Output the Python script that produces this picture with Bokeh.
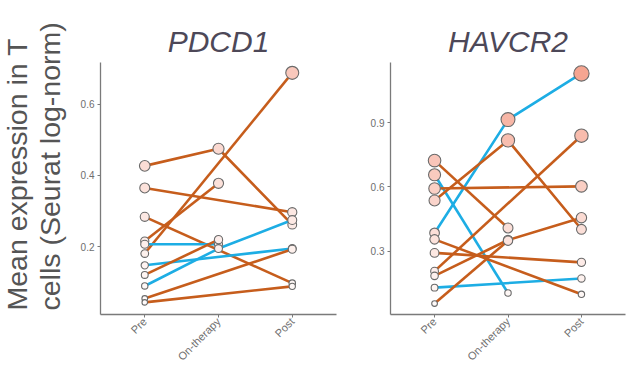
import math
from bokeh.plotting import figure
from bokeh.models import Range1d, FixedTicker, ColumnDataSource, Title
from bokeh.layouts import row
from bokeh.embed import file_html
from bokeh.resources import INLINE

nan = float("nan")

timepoints = ["Pre", "On-therapy", "Post"]

# PDCD1 (one entry per patient)
pdcd1_group = ["G1", "G1", "G1", "G1", "G1", "G2", "G2", "G2", "G1", "G1", "G1"]
pdcd1_pre = [0.427, 0.365, 0.284, 0.181, 0.216, 0.207, 0.148, 0.090, 0.121, 0.055, 0.044]
pdcd1_on = [0.475, nan, nan, nan, 0.378, 0.207, nan, 0.195, 0.220, nan, nan]
pdcd1_post = [0.262, 0.297, 0.098, 0.688, nan, nan, 0.195, 0.275, nan, 0.193, 0.089]
pdcd1_ticks = [0.2, 0.4, 0.6]

# HAVCR2 (one entry per patient)
havcr2_group = ["G2", "G2", "G2", "G1", "G1", "G1", "G1", "G1", "G1", "G1", "G1"]
havcr2_pre = [0.386, 0.657, 0.131, 0.723, 0.537, 0.593, 0.356, 0.293, 0.208, 0.186, 0.057]
havcr2_on = [0.914, 0.106, nan, 0.409, 0.817, nan, nan, nan, nan, 0.353, 0.350]
havcr2_post = [1.129, nan, 0.174, nan, 0.403, 0.603, 0.100, 0.249, 0.839, 0.457, nan]
havcr2_ticks = [0.3, 0.6, 0.9]

ylabel_lines = ["Mean expression in T", "cells  (Seurat log-norm)"]

LINE_COLORS = {"G1": "#C65D1C", "G2": "#1DADE4"}
FILL_LO = (255, 255, 255)
FILL_HI = (245, 165, 145)
FILL_MAX = 1.13
TEXT_GREY = "#6e6e6e"


def fill_for(v):
    t = max(0.0, min(1.0, v / FILL_MAX))
    c = [round(a + (b - a) * t) for a, b in zip(FILL_LO, FILL_HI)]
    return "#%02x%02x%02x" % tuple(c)


def build(title, pre, on, post, group, yr, yticks, srange, width, borders):
    left, right, top, bottom = borders
    p = figure(width=width, height=375, x_range=Range1d(0.4, 3.6), y_range=Range1d(*yr),
               output_backend="svg", toolbar_location=None,
               min_border_left=left, min_border_right=right,
               min_border_top=top, min_border_bottom=bottom)
    p.outline_line_color = None
    p.grid.visible = False
    p.background_fill_color = "white"
    p.border_fill_color = "white"

    xs, ys, cols = [], [], []
    px, py = [], []
    for i in range(len(pre)):
        vals = [pre[i], on[i], post[i]]
        lx = [k + 1 for k, v in enumerate(vals) if not math.isnan(v)]
        ly = [v for v in vals if not math.isnan(v)]
        xs.append(lx)
        ys.append(ly)
        cols.append(LINE_COLORS[group[i]])
        px += lx
        py += ly
    p.multi_line(xs=xs, ys=ys, line_color=cols, line_width=2.6)

    vmin, vmax = min(py), max(py)
    dmin, dmax = srange
    sizes = [math.sqrt(dmin ** 2 + (dmax ** 2 - dmin ** 2) * (v - vmin) / (vmax - vmin)) for v in py]
    fills = [fill_for(v) for v in py]
    src = ColumnDataSource(dict(x=px, y=py, size=sizes, fill=fills))
    p.scatter("x", "y", size="size", fill_color="fill", line_color="#6a6a6a",
              line_width=1.1, source=src)

    p.title.text = title
    p.title.align = "center"
    p.title.text_font = "Liberation Sans"
    p.title.text_font_style = "italic"
    p.title.text_font_size = "30px"
    p.title.text_color = "#4d4858"

    for ax in (p.xaxis[0], p.yaxis[0]):
        ax.axis_line_color = "#7a7a7a"
        ax.axis_line_width = 1.3
        ax.major_tick_line_color = "#7a7a7a"
        ax.major_tick_out = 3
        ax.major_tick_in = 0
        ax.minor_tick_line_color = None

    p.yaxis.ticker = FixedTicker(ticks=yticks)
    p.yaxis.major_label_text_font = "Liberation Sans"
    p.yaxis.major_label_text_font_size = "10px"
    p.yaxis.major_label_text_color = TEXT_GREY
    p.yaxis.major_label_standoff = 3

    p.xaxis.ticker = FixedTicker(ticks=[1, 2, 3])
    p.xaxis.major_label_overrides = {i + 1: name for i, name in enumerate(timepoints)}
    p.xaxis.major_label_orientation = math.pi / 4
    p.xaxis.major_label_text_font = "Liberation Sans"
    p.xaxis.major_label_text_font_size = "11px"
    p.xaxis.major_label_text_color = TEXT_GREY
    p.xaxis.major_label_standoff = 2
    return p


p1 = build("PDCD1", pdcd1_pre, pdcd1_on, pdcd1_post, pdcd1_group, (0.01, 0.717),
           pdcd1_ticks, (5.5, 13.0), 384, (124, 24, 62, 57))
p1.margin = (0, 0, 0, -24)
p2 = build("HAVCR2", havcr2_pre, havcr2_on, havcr2_post, havcr2_group, (0.006, 1.18),
           havcr2_ticks, (5.7, 15.3), 274, (30, 9, 60, 61))

# two-line y-axis title on the left of the first panel
p1.add_layout(Title(text="\n".join(ylabel_lines), align="left", offset=4, standoff=18,
                    vertical_align="top",
                    text_font="Liberation Sans", text_font_size="28.5px",
                    text_line_height=1.05, text_font_style="normal",
                    text_color="#555555"), "left")

layout = row(p1, p2)
open("out.html", "w").write(file_html(layout, INLINE))
